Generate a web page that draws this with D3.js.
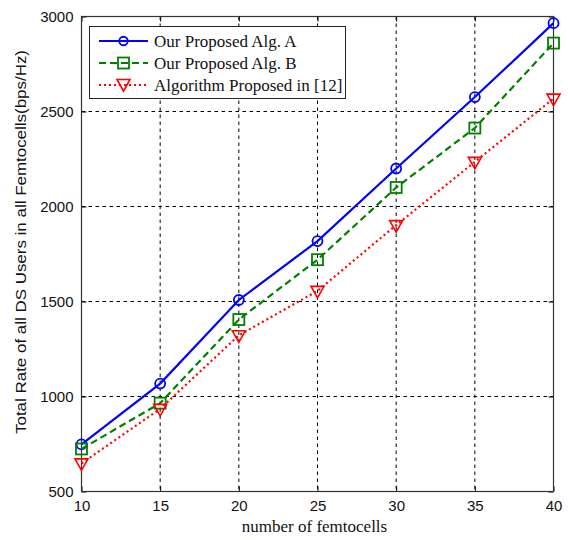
<!DOCTYPE html>
<html><head><meta charset="utf-8">
<script src="https://cdn.jsdelivr.net/npm/d3@7"></script>
<style>body{margin:0;background:#fff}</style>
</head><body>
<svg id="c" width="568" height="540"></svg>
<script>
const femtocells = [10, 15, 20, 25, 30, 35, 40];
const algA = [748, 1068, 1508, 1818, 2200, 2576, 2965];
const algB = [724, 965, 1405, 1720, 2100, 2413, 2860];
const ref12 = [648, 935, 1322, 1556, 1902, 2235, 2568];
const xTicks = [10, 15, 20, 25, 30, 35, 40];
const yTicks = [500, 1000, 1500, 2000, 2500, 3000];
const seriesNames = ["Our Proposed Alg. A", "Our Proposed Alg. B", "Algorithm Proposed in [12]"];

const svg = d3.select("#c");
const L = 81.5, R = 553.5, T = 16.5, B = 491.5;
const x = d3.scaleLinear().domain([10, 40]).range([L, R]);
const y = d3.scaleLinear().domain([500, 3000]).range([B, T]);

// grid
const g = svg.append("g");
g.selectAll(".vg").data(xTicks.slice(1, -1)).enter().append("line")
  .attr("x1", d => x(d)).attr("x2", d => x(d)).attr("y1", T).attr("y2", B)
  .attr("stroke", "#000").attr("stroke-width", 1).attr("stroke-dasharray", "3.5,3.5");
g.selectAll(".hg").data(yTicks.slice(1, -1)).enter().append("line")
  .attr("y1", d => y(d)).attr("y2", d => y(d)).attr("x1", L).attr("x2", R)
  .attr("stroke", "#000").attr("stroke-width", 1).attr("stroke-dasharray", "3.5,3.5");

// axes
const xAxis = d3.axisBottom(x).tickValues(xTicks).tickSize(-5).tickPadding(9).tickFormat(d3.format("d"));
const yAxis = d3.axisLeft(y).tickValues(yTicks).tickSize(-5).tickPadding(8).tickFormat(d3.format("d"));
const xa = svg.append("g").attr("transform", `translate(0,${B})`).call(xAxis);
const ya = svg.append("g").attr("transform", `translate(${L},0)`).call(yAxis);
[xa, ya].forEach(a => {
  a.select(".domain").remove();
  a.selectAll("line").attr("stroke", "#000");
  a.selectAll("text").attr("font-family", "Liberation Sans, Arial, sans-serif").attr("font-size", 15).attr("fill", "#111");
});
// top/right ticks
svg.append("g").attr("transform", `translate(0,${T})`).call(d3.axisTop(x).tickValues(xTicks).tickSize(-5).tickFormat(""))
  .call(a => { a.select(".domain").remove(); a.selectAll("line").attr("stroke", "#000"); });
svg.append("g").attr("transform", `translate(${R},0)`).call(d3.axisRight(y).tickValues(yTicks).tickSize(-5).tickFormat(""))
  .call(a => { a.select(".domain").remove(); a.selectAll("line").attr("stroke", "#000"); });

svg.append("rect").attr("x", L).attr("y", T).attr("width", R - L).attr("height", B - T)
  .attr("fill", "none").attr("stroke", "#333").attr("stroke-width", 1.2);

// series
const series = [
  {name: seriesNames[0], vals: algA, color: "#0000ff", dash: null, marker: "circle"},
  {name: seriesNames[1], vals: algB, color: "#008000", dash: "7,4", marker: "square"},
  {name: seriesNames[2], vals: ref12, color: "#ff0000", dash: "2,3", marker: "tri"}
];
const line = d3.line().x(d => x(d[0])).y(d => y(d[1]));

function drawMarker(sel, type, color, cx, cy, s) {
  s = s || 1;
  if (type === "circle") {
    sel.append("circle").attr("cx", cx).attr("cy", cy).attr("r", 5 * s)
      .attr("fill", "none").attr("stroke", color).attr("stroke-width", 1.8);
  } else if (type === "square") {
    sel.append("rect").attr("x", cx - 5.5 * s).attr("y", cy - 5.5 * s).attr("width", 11 * s).attr("height", 11 * s)
      .attr("fill", "none").attr("stroke", color).attr("stroke-width", 1.8);
  } else {
    sel.append("path").attr("d", `M${cx - 6.5 * s},${cy - 4.5 * s}L${cx + 6.5 * s},${cy - 4.5 * s}L${cx},${cy + 7 * s}Z`)
      .attr("fill", "none").attr("stroke", color).attr("stroke-width", 1.6);
  }
}

series.forEach(s => {
  const pts = femtocells.map((f, i) => [f, s.vals[i]]);
  svg.append("path").attr("d", line(pts)).attr("fill", "none")
    .attr("stroke", s.color).attr("stroke-width", 2.2)
    .attr("stroke-dasharray", s.dash);
  const mg = svg.append("g");
  pts.forEach(p => drawMarker(mg, s.marker, s.color, x(p[0]), y(p[1])));
});

// legend
const lg = svg.append("g");
lg.append("rect").attr("x", 89.5).attr("y", 26.5).attr("width", 256).attr("height", 72)
  .attr("fill", "#fff").attr("stroke", "#222").attr("stroke-width", 1);
series.forEach((s, i) => {
  const yy = 41 + i * 22;
  lg.append("line").attr("x1", 99).attr("x2", 148).attr("y1", yy).attr("y2", yy)
    .attr("stroke", s.color).attr("stroke-width", 2.2).attr("stroke-dasharray", s.dash);
  drawMarker(lg, s.marker, s.color, 123.5, yy - (s.marker === "tri" ? 1 : 0), s.marker === "circle" ? 0.85 : 1);
  lg.append("text").attr("x", 154).attr("y", yy + 5.5).text(s.name)
    .attr("font-family", "Liberation Serif, Times New Roman, serif").attr("font-size", 17).attr("fill", "#111");
});

// axis labels
svg.append("text").attr("x", (L + R) / 2 - 3).attr("y", 532).attr("text-anchor", "middle")
  .attr("font-family", "Liberation Serif, Times New Roman, serif").attr("font-size", 17).attr("fill", "#111")
  .text("number of femtocells");
svg.append("text").attr("transform", `translate(26,242) rotate(-90)`).attr("text-anchor", "middle")
  .attr("font-family", "Liberation Sans, Arial, sans-serif").attr("font-size", 14).attr("fill", "#111")
  .attr("textLength", 384).attr("lengthAdjust", "spacingAndGlyphs")
  .text("Total Rate of all DS Users in all Femtocells(bps/Hz)");
</script>
</body></html>
